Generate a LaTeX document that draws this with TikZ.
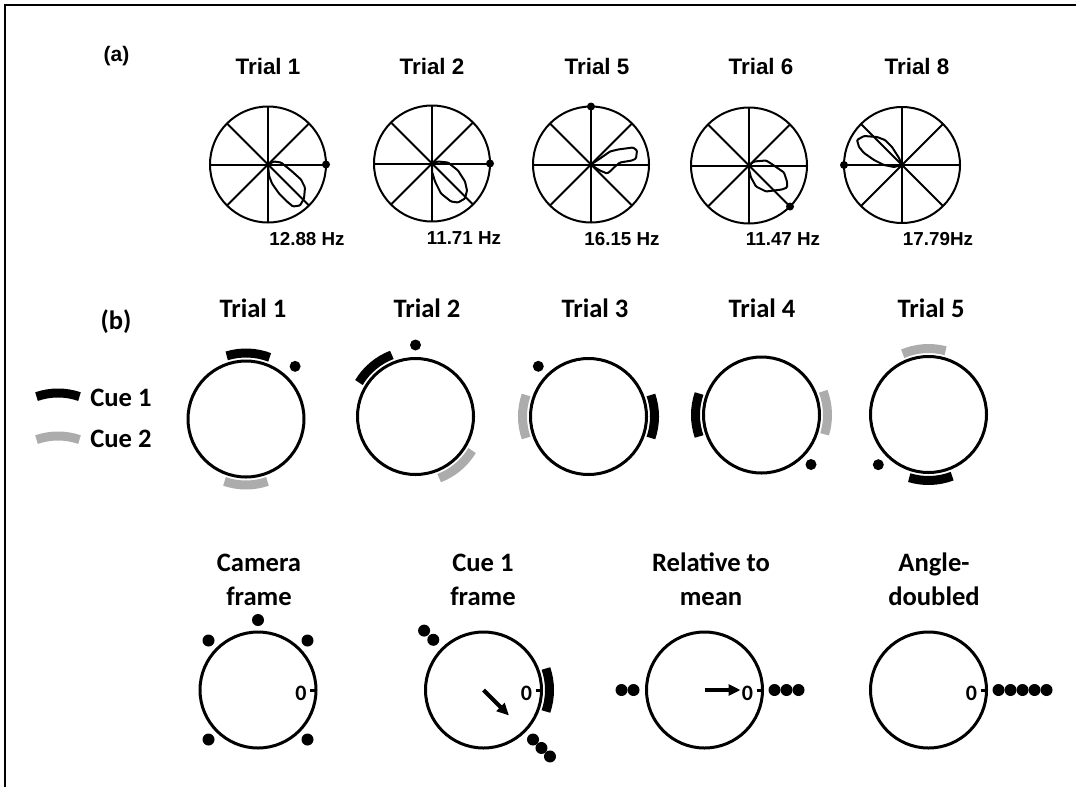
\documentclass[tikz,border=0pt]{standalone}
\usepackage{fontspec}
\setmainfont{Liberation Sans}
\newfontfamily\calib{Carlito}
\usetikzlibrary{arrows.meta}
\definecolor{cuegray}{RGB}{172,172,172}

\begin{document}
\begin{tikzpicture}[x=0.5pt, y=0.5pt,
  polar/.style={line width=1pt},
  lobe/.style={line width=1pt, rounded corners=0.5pt},
  rim/.style={line width=1.5pt},
  cueone/.style={line width=4.5pt, draw=black},
  cuetwo/.style={line width=4.5pt, draw=cuegray},
  ptitle/.style={font=\fontsize{11.2}{13}\selectfont\bfseries},
  freq/.style={font=\fontsize{9.4}{11}\selectfont\bfseries},
  ctitle/.style={font=\calib\fontsize{13.3}{17}\selectfont\bfseries, align=center},
  zero/.style={font=\calib\fontsize{11}{13}\selectfont\bfseries, inner sep=0pt},
  vec/.style={line width=2pt, -{Triangle[length=6pt, width=5.5pt]}}
]
\useasboundingbox (0,0) rectangle (1076,-787);
% frame
\draw[line width=0.8pt] (5,-787) -- (5,-5) -- (1076,-5);

% Row (a): polar plots
\node[font=\fontsize{10.5}{12}\selectfont\bfseries] (lbla) at (116.5,-56) {(a)};
\foreach \n/\tx/\cx/\cy/\da in {1/268/268/-164.5/0, 2/432/432/-163.5/0,
    5/597/591/-164.5/90, 6/761/749/-165.5/-45, 8/917/902/-165/180}{
  \coordinate (pa\n) at (\cx,\cy);
  \node[ptitle] (ta\n) at (\tx,-66) {Trial \n};
  \draw[polar] (pa\n) circle[radius=58];
  \foreach \a in {0,45,90,135}
    \draw[polar] (pa\n) ++(\a:58) -- ++({\a+180}:116);
  \fill (pa\n) ++(\da:58) circle[radius=4];
}
\node[freq] (fa1) at (307,-239) {12.88 Hz};
\node[freq] (fa2) at (464,-238) {11.71 Hz};
\node[freq] (fa5) at (622,-239) {16.15 Hz};
\node[freq] (fa6) at (783,-239) {11.47 Hz};
\node[freq] (fa8) at (938,-239) {17.79Hz};
% lobes
\begin{scope}[shift={(pa1)}]
  \draw[lobe] (0,0) -- (6,3) -- (13,2) -- (23,-6) -- (33,-15) -- (37,-23) -- (36,-34) -- (32,-41)
    -- (25,-42) -- (19,-37) -- (11,-29) -- (4,-19) -- (1,-11) -- cycle;
\end{scope}
\begin{scope}[shift={(pa2)}]
  \draw[lobe] (0,0) -- (6,2) -- (16,1) -- (26,-7) -- (33,-18) -- (35,-27) -- (33,-35) -- (26,-39)
    -- (19,-38) -- (9,-30) -- (3,-18) -- (0,-8) -- cycle;
\end{scope}
\begin{scope}[shift={(pa5)}]
  \draw[lobe] (0,0) -- (9,6) -- (19,13) -- (27,15) -- (42,17) -- (46,14) -- (45,6) -- (41,4)
    -- (29,2) -- (24,-2) -- (19,-7) -- (16,-9) -- (9,-6) -- (4,-3) -- cycle;
\end{scope}
\begin{scope}[shift={(pa6)}]
  \draw[lobe] (0,0) -- (5,4) -- (17,5) -- (22,2) -- (35,-7) -- (38,-16) -- (38,-22) -- (33,-24)
    -- (25,-25) -- (17,-26) -- (7,-21) -- (2,-12) -- (0,-4) -- cycle;
\end{scope}
\begin{scope}[shift={(pa8)}]
  \draw[lobe] (0,0) -- (-3,7) -- (-10,18) -- (-17,25) -- (-25,28) -- (-38,29) -- (-45,25)
    -- (-43,18) -- (-38,12) -- (-28,5) -- (-18,0) -- (-8,-2) -- cycle;
\end{scope}

% Row (b): cue positions
\node[ctitle] (lblb) at (116,-322) {(b)};
\draw[cueone] (58,-459) ++(71:66) arc[start angle=71, end angle=109, radius=66];
\node[ctitle] (cue1) at (121,-398) {Cue 1};
\draw[cuetwo] (58,-502) ++(71:66) arc[start angle=71, end angle=109, radius=66];
\node[ctitle] (cue2) at (121,-439) {Cue 2};
\foreach \n/\tx/\cx/\cy/\ca/\cb/\da/\dr in {1/253/246/-419/88/270/47/72, 2/427/415.5/-416.5/130/310/90/71.5,
    3/595/588.5/-416.5/0/180/135/71, 4/762/761.5/-415/180/2/-45/70, 5/931/928.5/-414.5/272/94/225/71}{
  \coordinate (pb\n) at (\cx,\cy);
  \node[ctitle] (tb\n) at (\tx,-308) {Trial \n};
  \draw[rim] (pb\n) circle[radius=58];
  \draw[cueone] (pb\n) ++({\ca-19}:66) arc[start angle={\ca-19}, end angle={\ca+19}, radius=66];
  \draw[cuetwo] (pb\n) ++({\cb-19}:66) arc[start angle={\cb-19}, end angle={\cb+19}, radius=66];
  \fill (pb\n) ++(\da:\dr) circle[radius=5.5];
}

% Reference frames
\foreach \n/\cx/\tx/\ty/\txt in {1/258/259/-580/{Camera\\frame}, 2/483.5/483/-580/{Cue 1\\frame},
    3/704.5/711/-579/{Relative to\\mean}, 4/928.5/934/-579/{Angle-\\doubled}}{
  \coordinate (pc\n) at (\cx,-690);
  \node[ctitle] (tc\n) at (\tx,\ty) {\txt};
  \draw[rim] (pc\n) circle[radius=58];
  \draw[rim] (pc\n) ++(52,0) -- ++(6,0);
  \path (pc\n) ++(43,-3.5) node[zero] (z\n) {0};
}
\foreach \a in {45,90,135,225,315}
  \fill (pc1) ++(\a:70) circle[radius=6];
\foreach \r in {71,84}
  \fill (pc2) ++(135:\r) circle[radius=6];
\foreach \r in {70,82,94}
  \fill (pc2) ++(-45:\r) circle[radius=6];
\draw[cueone] (pc2) ++(-19:66) arc[start angle=-19, end angle=19, radius=66];
\draw[vec] (pc2) -- ++(-45:36);
\foreach \r in {71,83}
  \fill (pc3) ++(180:\r) circle[radius=6];
\foreach \r in {70,82,94}
  \fill (pc3) ++(0:\r) circle[radius=6];
\draw[vec] (pc3) -- ++(0:36);
\foreach \r in {70,82,94,106,118}
  \fill (pc4) ++(0:\r) circle[radius=6];
\end{tikzpicture}
\end{document}
